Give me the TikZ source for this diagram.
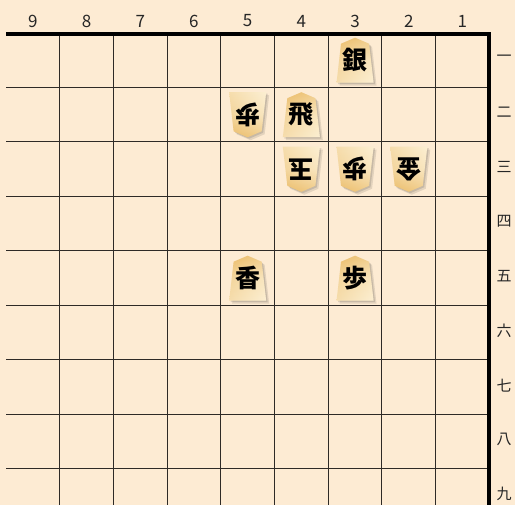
\documentclass[tikz,border=0pt]{standalone}
\usepackage{fontspec}
\newfontfamily\jpfont{Noto Sans CJK JP}
\usetikzlibrary{calc}

\definecolor{boardbg}{HTML}{FDEBD3}
\definecolor{gridline}{HTML}{2E2A26}
\definecolor{komadark}{HTML}{EBBC68}
\definecolor{komalight}{HTML}{FCEFD2}

% one piece: name, file, rank, glyph, angle (0 = sente, 180 = gote)
\newcommand{\koma}[5]{%
  \begin{scope}[shift={(c#2#3)}]
    \begin{scope}[shift={(3,3)}, rotate=#5]
      \fill[black, opacity=0.10] (0,-22.5) -- (14,-16.5) -- (18.5,22.5) -- (-18.5,22.5) -- (-14,-16.5) -- cycle;
    \end{scope}
    \begin{scope}[shift={(1.5,1.5)}, rotate=#5]
      \fill[black, opacity=0.12] (0,-22.5) -- (14,-16.5) -- (18.5,22.5) -- (-18.5,22.5) -- (-14,-16.5) -- cycle;
    \end{scope}
    \begin{scope}[rotate=#5]
      \shade[komabody#5] (0,-22.5) -- (14,-16.5) -- (18.5,22.5) -- (-18.5,22.5) -- (-14,-16.5) -- cycle;
      \shade[left color=komadark, right color=komalight, opacity=0.35] (0,-22.5) -- (14,-16.5) -- (18.5,22.5) -- (-18.5,22.5) -- (-14,-16.5) -- cycle;
    \end{scope}
  \end{scope}
  \node[komaglyph, rotate=#5] (#1) at (c#2#3) {#4};
}

\begin{document}
\begin{tikzpicture}[x=1pt, y=-1pt,
  komabody0/.style={top color=komadark, bottom color=komalight, middle color=komalight!75!komadark},
  komabody180/.style={top color=komalight, bottom color=komadark, middle color=komalight!75!komadark},
  komaglyph/.style={inner sep=0pt, font=\jpfont\bfseries\fontsize{25}{25}\selectfont},
  lbl/.style={inner sep=0pt, text=black!85, font=\jpfont\fontsize{15}{15}\selectfont},
  num/.style={inner sep=0pt, text=black!85, font=\jpfont\fontsize{17}{17}\selectfont}
]
\useasboundingbox (0,0) rectangle (515,505);
\fill[boardbg] (0,0) rectangle (515,505);

% square centres
\foreach \f in {1,...,9}
  \foreach \r in {1,...,9}
    \coordinate (c\f\r) at ({6+53.7*(9.5-\f)}, {33+54.5*(\r-0.5)});

% grid
\foreach \i in {1,...,8} {
  \draw[gridline, line width=1pt] ({6+53.7*\i},33) -- ({6+53.7*\i},505);
  \draw[gridline, line width=1pt] (6,{33+54.5*\i}) -- (489,{33+54.5*\i});
}
\draw[black, line width=4pt] (6,34) -- (488.7,34) -- (488.7,505);

% file and rank labels
\foreach \f in {1,...,9}
  \node[num] (file\f) at ({6+53.7*(9.5-\f)}, 21) {\f};
\foreach \k/\r in {一/1,二/2,三/3,四/4,五/5,六/6,七/7,八/8,九/9}
  \node[lbl] (rank\r) at (504, {31+54.5*(\r-0.5)}) {\k};

% pieces
\koma{gin31}{3}{1}{銀}{0}
\koma{fu52}{5}{2}{歩}{180}
\koma{hi42}{4}{2}{飛}{0}
\koma{gyoku43}{4}{3}{玉}{180}
\koma{fu33}{3}{3}{歩}{180}
\koma{kin23}{2}{3}{金}{180}
\koma{kyo55}{5}{5}{香}{0}
\koma{fu35}{3}{5}{歩}{0}
\end{tikzpicture}
\end{document}
